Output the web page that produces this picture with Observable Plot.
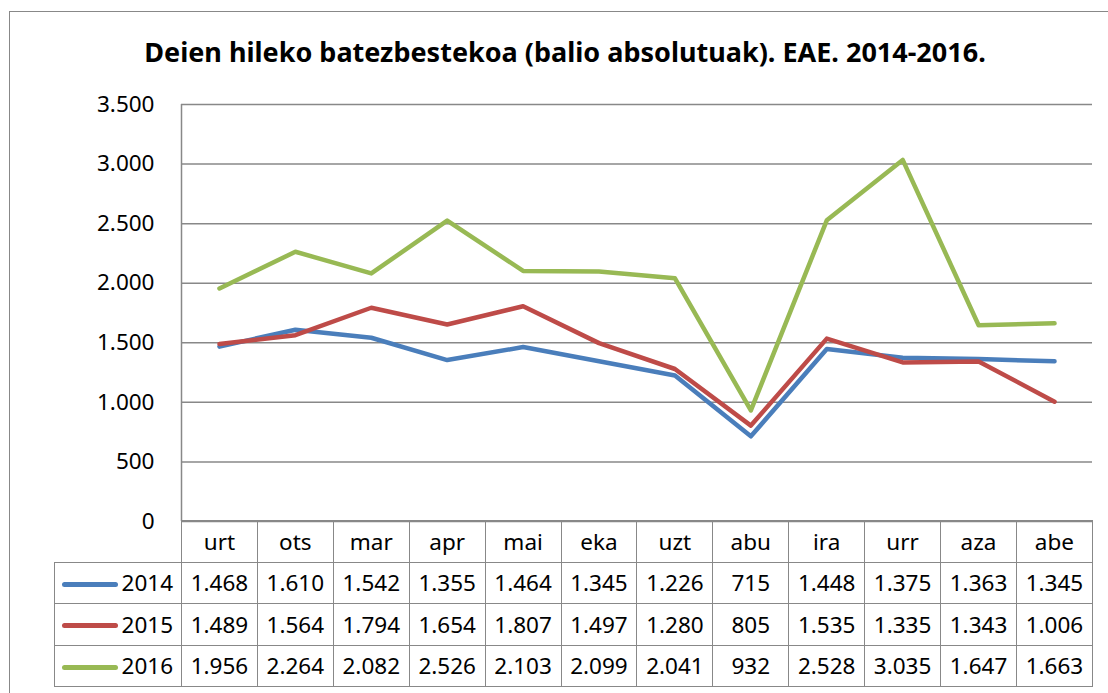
<!DOCTYPE html>
<html><head><meta charset="utf-8">
<script src="https://cdn.jsdelivr.net/npm/d3@7"></script>
<script src="https://cdn.jsdelivr.net/npm/@observablehq/plot@0.6"></script>
<style>
body{margin:0;background:#fff;font-family:"Noto Sans",sans-serif;color:#000;}
#wrap{position:relative;width:1108px;height:693px;overflow:hidden;}
#frame{position:absolute;left:9px;top:11px;width:1200px;height:800px;border:1.5px solid #888;box-sizing:border-box;}
#title{position:absolute;left:0;width:1130px;top:33px;text-align:center;font-weight:bold;font-size:27px;line-height:38px;white-space:nowrap;}
#chart{position:absolute;left:0;top:0;}
#tbl{position:absolute;border-collapse:collapse;table-layout:fixed;font-size:22.5px;}
#tbl td{border:1.5px solid #888;text-align:center;padding:0;height:40.5px;white-space:nowrap;overflow:hidden;}
#tbl td.hdr{text-align:right;padding-right:8px;}
.sw{display:inline-block;width:56px;height:5px;border-radius:3px;vertical-align:middle;margin-right:4px;position:relative;top:-1px;}
</style>
</head><body>
<div id="wrap">
  <div id="frame"></div>
  <div id="title">Deien hileko batezbestekoa (balio absolutuak). EAE. 2014-2016.</div>
  <div id="chart"></div>
</div>
<script>
const months = ["urt","ots","mar","apr","mai","eka","uzt","abu","ira","urr","aza","abe"];
const years = ["2014","2015","2016"];
const values2014 = [1468,1610,1542,1355,1464,1345,1226,715,1448,1375,1363,1345];
const values2015 = [1489,1564,1794,1654,1807,1497,1280,805,1535,1335,1343,1006];
const values2016 = [1956,2264,2082,2526,2103,2099,2041,932,2528,3035,1647,1663];
const yTicks = [0,500,1000,1500,2000,2500,3000,3500];
const colors = ["#4A7EBB","#BE4B48","#98B954"];

const series = [values2014, values2015, values2016];
const data = [];
years.forEach((y, j) => months.forEach((m, i) => data.push({year: y, month: m, idx: i, value: series[j][i]})));

const fmt = d3.formatLocale({decimal: ",", thousands: ".", grouping: [3], currency: ["", "€"]}).format(",d");

const chart = Plot.plot({
  width: 1108, height: 693,
  marginTop: 104, marginBottom: 172, marginLeft: 181, marginRight: 16,
  style: {fontFamily: "Noto Sans", fontSize: "22.5px", background: "transparent", color: "#000", overflow: "visible"},
  x: {domain: [0, months.length], axis: null},
  y: {domain: [0, 3500], ticks: yTicks, tickFormat: fmt, label: null, tickSize: 0, tickPadding: 27},
  color: {domain: years, range: colors},
  marks: [
    Plot.ruleY(yTicks, {stroke: "#888", strokeWidth: 1.5}),
    Plot.ruleX([0], {stroke: "#888", strokeWidth: 1.5}),
    Plot.line(data, {x: d => d.idx + 0.5, y: "value", z: "year", stroke: "year", strokeWidth: 4.5, strokeLinejoin: "round", strokeLinecap: "round"})
  ]
});
document.getElementById("chart").appendChild(chart);

// data table below the plot, aligned with the x scale
const xs = chart.scale("x");
const x0 = xs.apply(0);
const step = xs.apply(1) - xs.apply(0);
const tableLeft = 54;
const firstW = x0 - tableLeft;
const tbl = document.createElement("table");
tbl.id = "tbl";
tbl.style.left = tableLeft + "px";
tbl.style.top = "520px";
tbl.style.width = (firstW + step * months.length) + "px";
const cg = document.createElement("colgroup");
const c0 = document.createElement("col"); c0.style.width = firstW + "px"; cg.appendChild(c0);
months.forEach(() => { const c = document.createElement("col"); c.style.width = step + "px"; cg.appendChild(c); });
tbl.appendChild(cg);
const hr = document.createElement("tr");
const corner = document.createElement("td"); corner.style.border = "none"; hr.appendChild(corner);
months.forEach(m => { const td = document.createElement("td"); td.textContent = m; hr.appendChild(td); });
tbl.appendChild(hr);
years.forEach((y, j) => {
  const tr = document.createElement("tr");
  const h = document.createElement("td"); h.className = "hdr";
  const sw = document.createElement("span"); sw.className = "sw"; sw.style.background = colors[j];
  h.appendChild(sw); h.appendChild(document.createTextNode(y));
  tr.appendChild(h);
  series[j].forEach(v => { const td = document.createElement("td"); td.textContent = fmt(v); tr.appendChild(td); });
  tbl.appendChild(tr);
});
document.getElementById("wrap").appendChild(tbl);
</script>
</body></html>
